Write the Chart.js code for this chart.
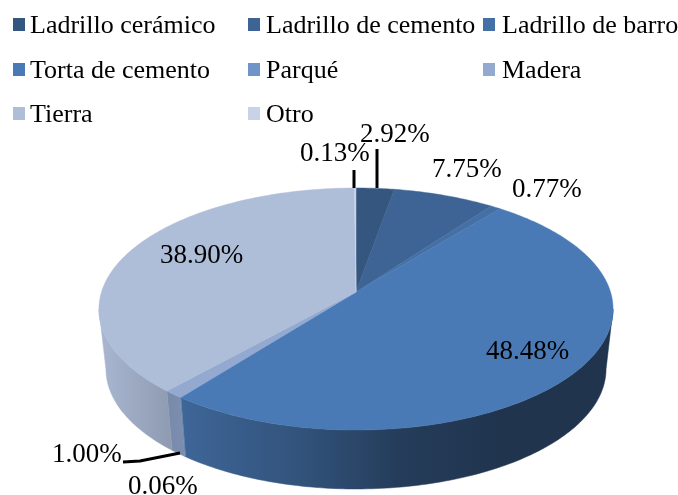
<!DOCTYPE html>
<html>
<head>
<meta charset="utf-8">
<style>
    body { margin: 0; background: #fff; }
    #chart { display: block; }
</style>
<script src="https://cdn.jsdelivr.net/npm/chart.js@4"></script>
</head>
<body>
<canvas id="chart" width="678" height="495"></canvas>
<script>
const categories = ['Ladrillo cerámico', 'Ladrillo de cemento', 'Ladrillo de barro', 'Torta de cemento', 'Parqué', 'Madera', 'Tierra', 'Otro'];
const shares = [2.92, 7.75, 0.77, 48.48, 0.06, 1.00, 38.90, 0.13];
const colors = ['#35577f', '#3d6495', '#4470a6', '#4a7ab5', '#6f94c8', '#93a9d0', '#aebdd8', '#c9d3e8'];

const FONT = '"Liberation Serif", serif';

// legend slots, same order as categories
const legendColumns = [{ box: 13, text: 30 }, { box: 248, text: 266 }, { box: 483, text: 502 }];
const legendBaselines = [33, 78, 122];

// label anchors (left x, baseline y), same order as shares
const labelSpots = [[360, 142], [432, 177], [512, 197], [486, 359], [128, 494], [52, 462], [160, 263], [300, 161]];
const leaders = [
    [[377, 149], [377, 188]],
    [[354, 170], [354, 188]],
    [[123, 462], [140, 461], [180, 453]]
];

// tilted disc: the wedges meet above the middle of the ellipse, as in a perspective view
const TILT = 0.1405;
const WARP = 0.06;
const CX = 356;
function project(angle) {
    const a = angle - WARP * Math.cos(angle);
    const u = Math.cos(a), v = Math.sin(a), w = 1 - TILT * v;
    return { x: CX + 254.5 * u / w, y: 292 + 118.6 * v / w };
}
function projectBottom(a) {
    const p = project(a);
    return { x: CX + (p.x - CX) * 250 / 257, y: 369 + (p.y - 309) * 120 / 121 };
}

function shaded(ctx, hex) {
    const n = parseInt(hex.slice(1), 16);
    const grad = ctx.createLinearGradient(99, 0, 613, 0);
    [[0, 0.97], [0.14, 0.82], [0.16, 0.84], [0.39, 0.68], [0.58, 0.5], [0.78, 0.43], [1, 0.43]].forEach(([stop, k]) => {
        const r = Math.round((n >> 16) * k), g = Math.round(((n >> 8) & 255) * k), b = Math.round((n & 255) * k);
        grad.addColorStop(stop, `rgb(${r},${g},${b})`);
    });
    return grad;
}

function drawSide(ctx, arc, color) {
    const a0 = Math.asin(TILT) + WARP;
    const start = Math.max(arc.startAngle, a0);
    const end = Math.min(arc.endAngle, Math.PI - a0);
    if (end <= start) return;
    const steps = Math.ceil((end - start) * 60) + 1;
    ctx.beginPath();
    for (let i = 0; i <= steps; i++) {
        const p = project(start + (end - start) * i / steps);
        ctx.lineTo(p.x, p.y);
    }
    for (let i = steps; i >= 0; i--) {
        const p = projectBottom(start + (end - start) * i / steps);
        ctx.lineTo(p.x, p.y);
    }
    ctx.closePath();
    const fill = shaded(ctx, color);
    ctx.fillStyle = fill;
    ctx.strokeStyle = fill;
    ctx.lineWidth = 0.5;
    ctx.fill();
    ctx.stroke();
}

function drawTop(ctx, arc, color) {
    const steps = Math.ceil((arc.endAngle - arc.startAngle) * 60) + 1;
    ctx.beginPath();
    ctx.moveTo(CX, 292);
    for (let i = 0; i <= steps; i++) {
        const p = project(arc.startAngle + (arc.endAngle - arc.startAngle) * i / steps);
        ctx.lineTo(p.x, p.y);
    }
    ctx.closePath();
    ctx.fillStyle = color;
    ctx.strokeStyle = color;
    ctx.lineWidth = 0.5;
    ctx.fill();
    ctx.stroke();
}

const tiltedPie = {
    id: 'tiltedPie',
    beforeDatasetsDraw(chart) {
        const ctx = chart.ctx;
        const arcs = chart.getDatasetMeta(0).data;
        ctx.save();
        arcs.forEach((arc, i) => drawSide(ctx, arc, colors[i]));
        arcs.forEach((arc, i) => drawTop(ctx, arc, colors[i]));
        ctx.restore();
        return false;
    },
    afterDraw(chart) {
        const ctx = chart.ctx;
        ctx.save();

        // legend
        ctx.textBaseline = 'alphabetic';
        ctx.font = `26px ${FONT}`;
        categories.forEach((name, i) => {
            const col = legendColumns[i % 3];
            const baseline = legendBaselines[Math.floor(i / 3)];
            ctx.fillStyle = colors[i];
            ctx.fillRect(col.box, baseline - 15, 12, 13);
            ctx.fillStyle = '#000';
            ctx.fillText(name, col.text, baseline);
        });

        // leader lines
        ctx.strokeStyle = '#000';
        ctx.lineWidth = 3;
        leaders.forEach(line => {
            ctx.beginPath();
            line.forEach(([x, y]) => ctx.lineTo(x, y));
            ctx.stroke();
        });

        // value labels
        ctx.font = `27px ${FONT}`;
        ctx.fillStyle = '#000';
        shares.forEach((value, i) => {
            ctx.fillText(`${value.toFixed(2)}%`, labelSpots[i][0], labelSpots[i][1]);
        });
        ctx.restore();
    }
};

new Chart(document.getElementById('chart'), {
    type: 'pie',
    data: {
        labels: categories,
        datasets: [{ data: shares, backgroundColor: colors, borderWidth: 0 }]
    },
    options: {
        responsive: false,
        animation: false,
        plugins: {
            legend: { display: false },
            tooltip: { enabled: false }
        }
    },
    plugins: [tiltedPie]
});
</script>
</body>
</html>
